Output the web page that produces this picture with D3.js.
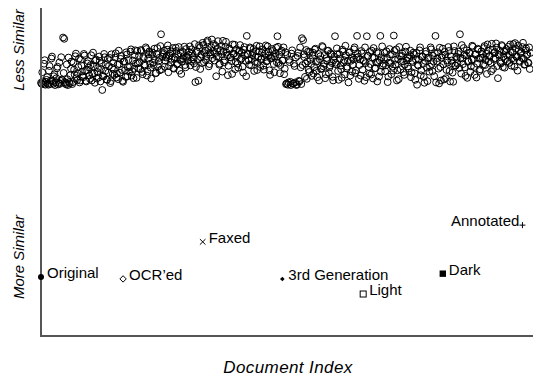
<!DOCTYPE html>
<html>
<head>
<meta charset="utf-8">
<script src="https://cdn.jsdelivr.net/npm/d3@7"></script>
<style>
  body { margin: 0; background: #fff; }
  svg { display: block; font-family: "Liberation Sans", Arial, sans-serif; }
</style>
</head>
<body>
<svg id="chart" width="533" height="376"></svg>
<script>
// distance of each document to its nearest neighbour (higher = less similar)
// even-numbered documents
var docDistance = [
  77.2, 80.4, 76.8, 84.1, 77.5, 78.9, 76.6, 82.3, 77.9, 85.2, 76.9, 79.8, 77.3, 81.6, 76.7, 83.4, 77.8, 78.2, 91.0, 90.6,
  77.1, 82.8, 76.5, 77.4, 79.5, 83.7, 77.4, 81.2, 85.3, 78.6, 80.1, 84.6, 77.9, 82.5, 79.3, 86.0, 80.8, 77.6, 83.1, 81.9,
  78.4, 85.6, 79.9, 82.2, 77.2, 84.3, 80.5, 78.8, 83.9, 81.4, 75.0, 79.1, 85.0, 82.7, 78.1, 80.3, 84.8, 77.7, 81.8, 83.3,
  79.6, 86.2, 80.0, 78.3, 82.9, 84.5, 81.1, 77.5, 83.6, 79.0, 85.8, 82.0, 80.6, 86.7, 79.4, 84.0, 81.5, 87.1, 78.7, 83.2,
  85.4, 81.3, 86.9, 79.8, 84.7, 82.4, 87.5, 80.7, 85.9, 83.0, 78.5, 86.4, 82.6, 84.2, 80.2, 87.8, 83.8, 81.0, 92.0, 85.1,
  86.3, 82.1, 84.9, 87.3, 80.4, 85.5, 83.4, 86.8, 81.7, 84.4, 87.9, 82.8, 85.7, 80.9, 86.1, 83.7, 84.6, 88.2, 81.9, 85.2,
  84.0, 86.6, 82.5, 87.4, 85.0, 83.1, 77.4, 86.9, 84.3, 88.6, 81.4, 85.8, 89.4, 83.5, 87.0, 85.3, 90.1, 82.2, 86.4, 88.0,
  84.7, 89.0, 86.2, 79.2, 87.6, 85.1, 83.0, 88.4, 80.6, 86.7, 84.1, 89.7, 85.6, 82.4, 87.2, 84.9, 79.9, 86.0, 88.8, 83.6,
  85.3, 81.8, 87.0, 84.2, 86.5, 80.3, 88.1, 83.9, 91.5, 85.9, 82.7, 87.7, 84.5, 86.3, 80.8, 85.0, 88.5, 83.3, 86.8, 82.0,
  84.4, 87.4, 81.2, 86.1, 83.7, 88.3, 85.5, 79.6, 84.8, 86.9, 82.9, 85.2, 87.9, 91.4, 83.2, 80.1, 86.6, 84.0, 88.0, 81.5,
  76.8, 85.7, 77.3, 83.5, 76.5, 87.1, 77.0, 82.3, 84.9, 76.7, 86.3, 77.6, 81.9, 90.8, 90.2, 85.0, 83.1, 78.4, 86.7, 80.5,
  84.2, 79.3, 86.4, 82.0, 87.6, 80.9, 83.8, 77.9, 85.3, 81.6, 88.1, 83.0, 78.6, 84.7, 86.9, 80.2, 82.5, 85.8, 79.0, 84.1,
  91.4, 82.8, 86.0, 78.1, 84.6, 81.3, 87.3, 83.4, 79.7, 85.6, 82.1, 77.3, 86.5, 83.9, 80.6, 84.3, 88.0, 81.0, 91.5, 85.1,
  82.6, 79.4, 86.2, 84.0, 77.8, 83.2, 91.4, 85.4, 80.0, 82.9, 87.0, 78.5, 84.8, 81.7, 86.6, 83.5, 79.1, 91.5, 85.0, 82.3,
  84.5, 80.7, 86.8, 77.4, 83.3, 85.9, 79.8, 82.1, 91.6, 84.2, 87.4, 81.0, 78.3, 85.3, 83.6, 86.1, 80.4, 82.7, 88.2, 84.9,
  81.5, 85.6, 78.9, 83.9, 86.4, 80.1, 84.3, 76.6, 82.4, 87.1, 79.5, 85.1, 83.0, 77.2, 86.0, 81.8, 84.7, 80.6, 88.0, 82.9,
  85.4, 79.2, 91.5, 83.7, 86.5, 77.0, 82.0, 84.9, 87.6, 78.2, 85.8, 81.1, 83.4, 86.9, 77.6, 84.0, 80.3, 88.3, 82.5, 85.2,
  83.1, 86.7, 92.0, 80.0, 84.6, 87.8, 81.9, 85.5, 78.7, 83.8, 86.2, 82.2, 88.5, 84.4, 79.6, 85.9, 83.0, 87.3, 80.8, 84.8,
  86.0, 82.7, 88.4, 84.1, 79.9, 87.0, 85.3, 83.2, 89.1, 81.4, 86.3, 84.7, 87.9, 78.6, 85.6, 83.5, 88.7, 82.0, 86.8, 84.3,
  87.5, 83.8, 85.7, 88.9, 82.4, 86.4, 84.0, 89.3, 85.2, 80.9, 87.2, 83.6, 86.6, 88.1, 84.5, 82.8, 87.7, 85.9, 83.2, 81.4
];
// odd-numbered documents
var docDistanceOdd = [
  76.9, 77.6, 83.0, 76.6, 78.1, 77.0, 80.9, 76.8, 84.6, 77.7, 79.2, 76.5, 78.6, 82.1, 77.2, 76.9, 85.0, 78.0, 80.2, 77.4,
  76.7, 78.3, 84.9, 77.0, 81.5, 76.8, 83.3, 79.7, 86.1, 78.0, 82.0, 77.3, 84.2, 80.6, 78.9, 85.5, 77.8, 81.0, 83.8, 79.4,
  82.6, 77.9, 86.4, 80.1, 84.0, 78.5, 81.7, 85.2, 77.6, 83.0, 79.3, 86.0, 80.8, 78.2, 84.5, 82.3, 77.1, 85.9, 79.9, 81.2,
  84.9, 78.8, 82.7, 87.0, 80.3, 85.4, 77.8, 83.7, 81.0, 86.5, 79.1, 84.2, 82.0, 87.4, 80.7, 78.6, 85.6, 83.1, 86.9, 81.6,
  83.5, 87.2, 80.5, 85.1, 82.8, 88.0, 79.4, 84.6, 86.8, 81.8, 85.7, 83.3, 87.6, 80.1, 86.0, 82.2, 84.8, 88.4, 81.3, 85.9,
  87.0, 83.9, 85.4, 88.6, 82.3, 86.2, 84.5, 87.8, 81.5, 85.0, 86.9, 83.1, 88.1, 84.2, 79.9, 86.7, 85.3, 82.6, 87.5, 84.8,
  85.6, 88.3, 83.8, 86.1, 84.4, 89.0, 82.0, 86.6, 77.8, 87.9, 85.0, 83.2, 88.7, 86.3, 84.1, 89.6, 87.2, 82.9, 85.8, 90.4,
  86.9, 84.0, 88.5, 85.2, 89.9, 82.7, 87.1, 85.9, 90.0, 83.4, 88.2, 86.4, 79.5, 87.7, 85.0, 83.8, 88.9, 86.1, 81.3, 87.4,
  83.0, 86.6, 88.7, 84.6, 82.1, 87.3, 85.5, 79.2, 86.0, 84.1, 88.0, 82.5, 85.7, 87.5, 83.6, 86.9, 81.1, 85.1, 88.3, 84.4,
  86.4, 82.4, 85.0, 88.6, 83.9, 86.7, 81.0, 84.6, 87.5, 85.3, 80.4, 86.2, 83.4, 88.2, 85.8, 82.6, 87.0, 84.0, 79.8, 86.5,
  77.0, 76.6, 84.2, 77.5, 86.1, 76.9, 83.0, 77.3, 76.5, 85.4, 77.8, 88.0, 76.8, 82.6, 85.9, 79.0, 87.2, 83.7, 81.2, 86.6,
  82.9, 85.5, 80.0, 87.3, 83.6, 78.9, 86.0, 84.4, 81.4, 88.4, 82.2, 85.7, 79.8, 84.0, 87.0, 81.9, 86.2, 83.2, 77.9, 85.2,
  83.3, 87.7, 80.8, 85.9, 82.4, 78.7, 86.8, 84.1, 88.5, 81.6, 83.9, 86.4, 79.4, 85.0, 82.7, 87.4, 80.2, 84.8, 86.1, 78.4,
  84.3, 86.9, 81.2, 83.8, 88.0, 78.9, 85.4, 82.0, 86.6, 79.7, 84.9, 87.8, 81.6, 83.4, 77.6, 86.2, 84.0, 80.6, 88.3, 83.0,
  86.3, 82.5, 84.8, 79.1, 87.5, 83.2, 85.8, 80.9, 86.9, 82.8, 77.9, 84.4, 88.1, 81.3, 85.4, 83.7, 79.6, 86.7, 84.0, 82.2,
  84.6, 87.0, 80.4, 83.5, 85.9, 78.1, 86.3, 82.7, 84.2, 88.0, 81.0, 85.2, 79.0, 83.9, 86.8, 77.7, 84.9, 82.1, 87.4, 80.7,
  83.7, 86.2, 77.3, 84.7, 81.5, 87.9, 77.9, 85.5, 82.8, 86.6, 78.6, 84.0, 88.1, 80.8, 85.3, 83.1, 77.5, 86.9, 82.4, 84.5,
  86.0, 81.7, 84.8, 88.7, 82.9, 85.7, 79.3, 87.1, 83.6, 86.4, 80.6, 84.2, 88.2, 82.0, 85.9, 78.8, 87.6, 84.6, 81.3, 86.8,
  84.9, 87.8, 82.6, 86.1, 88.9, 83.7, 85.4, 80.7, 87.3, 84.4, 86.6, 89.2, 82.3, 85.8, 87.0, 83.1, 88.4, 85.2, 81.8, 86.9,
  85.5, 88.2, 83.3, 86.8, 84.6, 89.0, 82.1, 87.6, 85.1, 88.6, 83.9, 86.2, 84.8, 89.4, 82.7, 87.1, 85.6, 83.4, 88.0, 86.3
];

// modified versions of one document
var variantNames = ["Original", "OCR\u2019ed", "Faxed", "3rd Generation", "Light", "Dark", "Annotated"];
var variantIndex = [0, 67, 132, 197, 263, 328, 393];
var variantDistance = [18.0, 17.4, 28.7, 17.4, 12.8, 19.0, 33.8];
var variantSymbol = ["dot", "diamondOpen", "cross", "diamondSmall", "squareOpen", "squareFilled", "plus"];

var svg = d3.select("#chart");
var plotLeft = 41, plotRight = 531, plotTop = 8, plotBottom = 336;

var x = d3.scaleLinear().domain([0, 400]).range([plotLeft, plotRight]);
var y = d3.scaleLinear().domain([0, 100]).range([plotBottom, plotTop]);

var docs = [];
docDistance.forEach(function(d, i) { docs.push({ idx: i, dist: d }); });
docDistanceOdd.forEach(function(d, i) { docs.push({ idx: i + 0.5, dist: d }); });

// background documents
svg.append("g")
  .selectAll("circle")
  .data(docs)
  .enter().append("circle")
  .attr("cx", function(d) { return x(d.idx); })
  .attr("cy", function(d) { return y(d.dist); })
  .attr("r", 3.4)
  .attr("fill", "none")
  .attr("stroke", "#000")
  .attr("stroke-width", 1);

// axes (no ticks)
svg.append("line")
  .attr("x1", plotLeft).attr("x2", plotLeft)
  .attr("y1", plotTop).attr("y2", plotBottom)
  .attr("stroke", "#555").attr("stroke-width", 2);
svg.append("line")
  .attr("x1", plotLeft - 1).attr("x2", 533)
  .attr("y1", plotBottom).attr("y2", plotBottom)
  .attr("stroke", "#555").attr("stroke-width", 2);

var variants = variantNames.map(function(n, i) {
  return { name: n, idx: variantIndex[i], dist: variantDistance[i], sym: variantSymbol[i] };
});

var vg = svg.append("g");
variants.forEach(function(v) {
  var g = vg.append("g")
    .attr("transform", "translate(" + x(v.idx) + "," + y(v.dist) + ")");
  if (v.sym == "dot") {
    g.append("circle").attr("r", 3).attr("fill", "#000");
  } else if (v.sym == "diamondOpen") {
    g.append("path").attr("d", "M0,-3.2L3.2,0L0,3.2L-3.2,0Z")
      .attr("fill", "#fff").attr("stroke", "#000").attr("stroke-width", 1);
  } else if (v.sym == "cross") {
    g.append("path").attr("d", "M-2.8,-2.8L2.8,2.8M-2.8,2.8L2.8,-2.8")
      .attr("stroke", "#000").attr("stroke-width", 1);
  } else if (v.sym == "diamondSmall") {
    g.append("path").attr("d", "M0,-2.3L2.3,0L0,2.3L-2.3,0Z").attr("fill", "#000");
  } else if (v.sym == "squareOpen") {
    g.append("rect").attr("x", -3).attr("y", -3).attr("width", 6).attr("height", 6)
      .attr("fill", "#fff").attr("stroke", "#000").attr("stroke-width", 1);
  } else if (v.sym == "squareFilled") {
    g.append("rect").attr("x", -3.2).attr("y", -3.2).attr("width", 6.4).attr("height", 6.4)
      .attr("fill", "#000");
  } else if (v.sym == "plus") {
    g.append("path").attr("d", "M-3,0L3,0M0,-3L0,3")
      .attr("stroke", "#000").attr("stroke-width", 1);
  }
  var anchorEnd = v.name == "Annotated";
  g.append("text")
    .attr("x", anchorEnd ? -3 : 6)
    .attr("y", 1)
    .attr("text-anchor", anchorEnd ? "end" : "start")
    .style("font-size", "15px")
    .text(v.name);
});

// axis titles
svg.append("text")
  .attr("transform", "translate(24,50) rotate(-90)")
  .attr("text-anchor", "middle")
  .style("font-size", "15px").style("font-style", "italic")
  .text("Less Similar");
svg.append("text")
  .attr("transform", "translate(24,257) rotate(-90)")
  .attr("text-anchor", "middle")
  .style("font-size", "15px").style("font-style", "italic")
  .text("More Similar");
svg.append("text")
  .attr("x", 288).attr("y", 373)
  .attr("text-anchor", "middle")
  .style("font-size", "17px").style("font-style", "italic")
  .style("letter-spacing", "0.4px")
  .text("Document Index");
</script>
</body>
</html>
